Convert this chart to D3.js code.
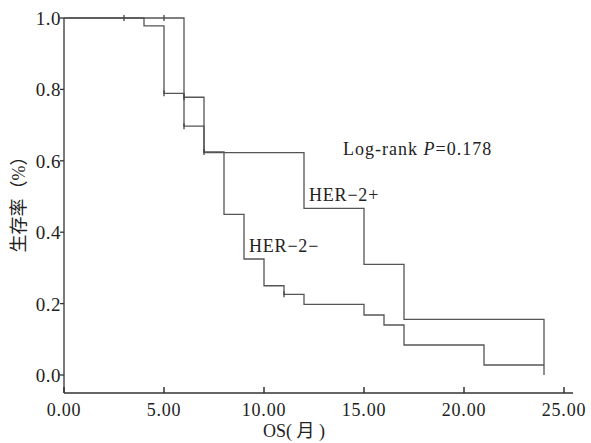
<!DOCTYPE html>
<html>
<head>
<meta charset="utf-8">
<script src="https://cdn.jsdelivr.net/npm/d3@7"></script>
<style>
  body { margin: 0; background: #fff; }
  text { font-family: "Liberation Serif", "Noto Sans CJK SC", serif; fill: #222; }
</style>
</head>
<body>
<svg id="chart" width="591" height="443"></svg>
<script>
// HER-2 positive: event times (months) and survival after each step
const posTimes = [0, 6, 7, 12, 15, 17, 24];
const posSurv = [1.0, 0.778, 0.623, 0.467, 0.31, 0.156, 0.0];
// HER-2 negative
const negTimes = [0, 4, 5, 6, 7, 8, 9, 10, 11, 12, 15, 16, 17, 21, 24];
const negSurv = [1.0, 0.978, 0.789, 0.697, 0.625, 0.45, 0.325, 0.25, 0.226, 0.198, 0.168, 0.14, 0.084, 0.028, 0.028];
// censored observations
const posCensT = [3, 5, 6];
const posCensS = [1.0, 1.0, 0.778];
const negCensT = [5, 6, 7, 11];
const negCensS = [0.789, 0.697, 0.625, 0.226];

const xTicks = [0, 5, 10, 15, 20, 25];
const yTicks = [0, 0.2, 0.4, 0.6, 0.8, 1.0];

const svg = d3.select('#chart');
const x = d3.scaleLinear().domain([0, 25]).range([64, 564]);
const y = d3.scaleLinear().domain([0, 1]).range([375, 18]);
const axisY = 393;

// axes lines
svg.append('line')
  .attr('x1', 64).attr('x2', 64).attr('y1', 18).attr('y2', axisY)
  .attr('stroke', '#333').attr('stroke-width', 1.3);
svg.append('line')
  .attr('x1', 64).attr('x2', 573).attr('y1', axisY).attr('y2', axisY)
  .attr('stroke', '#333').attr('stroke-width', 1.3);

// y ticks
svg.append('g').selectAll('line')
  .data(yTicks).join('line')
  .attr('x1', 60).attr('x2', 64)
  .attr('y1', d => y(d)).attr('y2', d => y(d))
  .attr('stroke', '#333').attr('stroke-width', 1.3);
svg.append('g').selectAll('text')
  .data(yTicks).join('text')
  .attr('x', 61).attr('y', d => y(d) + 7)
  .attr('text-anchor', 'end')
  .style('font-size', '19px').style('letter-spacing', '0.5px')
  .text(d => d.toFixed(1));

// x ticks (inward)
svg.append('g').selectAll('line')
  .data(xTicks).join('line')
  .attr('x1', d => x(d)).attr('x2', d => x(d))
  .attr('y1', axisY - 6).attr('y2', axisY)
  .attr('stroke', '#333').attr('stroke-width', 1.5);
svg.append('g').selectAll('text')
  .data(xTicks).join('text')
  .attr('x', d => x(d)).attr('y', 416)
  .attr('text-anchor', 'middle')
  .style('font-size', '18px').style('letter-spacing', '0.8px')
  .text(d => d.toFixed(2));

// axis titles
svg.append('text')
  .attr('x', 263).attr('y', 437)
  .style('font-size', '18px')
  .text('OS( 月 )');
svg.append('text')
  .attr('transform', 'translate(25,200) rotate(-90)')
  .attr('text-anchor', 'middle')
  .style('font-size', '18px')
  .text('生存率（%）');

// survival curves
const step = d3.line()
  .x(d => x(d[0]))
  .y(d => y(d[1]))
  .curve(d3.curveStepAfter);

const posData = posTimes.map((t, i) => [t, posSurv[i]]);
const negData = negTimes.map((t, i) => [t, negSurv[i]]);

svg.append('path')
  .attr('d', step(negData))
  .attr('fill', 'none').attr('stroke', '#555').attr('stroke-width', 1.3);
svg.append('path')
  .attr('d', step(posData))
  .attr('fill', 'none').attr('stroke', '#555').attr('stroke-width', 1.3);

// censor marks
const cens = posCensT.map((t, i) => [t, posCensS[i]])
  .concat(negCensT.map((t, i) => [t, negCensS[i]]));
svg.append('g').selectAll('line')
  .data(cens).join('line')
  .attr('x1', d => x(d[0])).attr('x2', d => x(d[0]))
  .attr('y1', d => y(d[1]) - 3).attr('y2', d => y(d[1]) + 3)
  .attr('stroke', '#444').attr('stroke-width', 1.3);

// annotations
const lr = svg.append('text')
  .attr('x', 343).attr('y', 155)
  .style('font-size', '18px').style('letter-spacing', '1px');
lr.append('tspan').text('Log-rank  ');
lr.append('tspan').style('font-style', 'italic').text('P');
lr.append('tspan').text('=0.178');

svg.append('text')
  .attr('x', 309).attr('y', 201)
  .style('font-size', '18px').style('letter-spacing', '0.8px')
  .text('HER−2+');
svg.append('text')
  .attr('x', 249).attr('y', 252)
  .style('font-size', '18px').style('letter-spacing', '0.8px')
  .text('HER−2−');
</script>
</body>
</html>
